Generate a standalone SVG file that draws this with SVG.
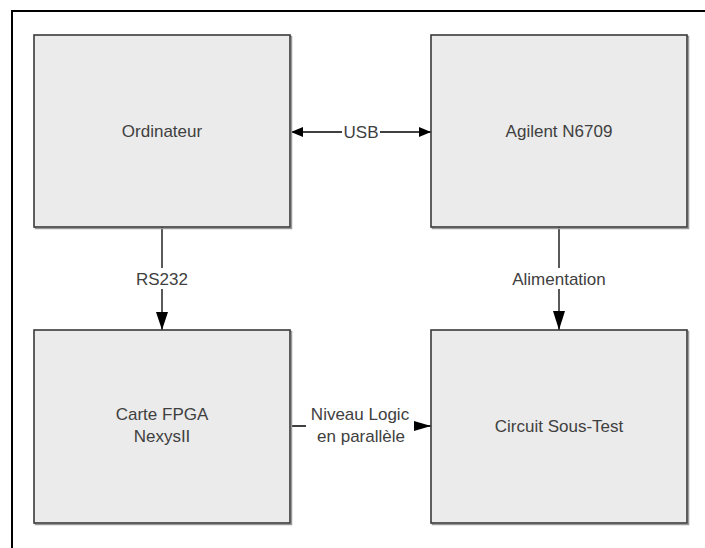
<svg xmlns="http://www.w3.org/2000/svg" width="705" height="548" viewBox="0 0 705 548">
<style>
.shadow{fill:none;stroke:#9a9a9a;stroke-width:1.5}
.box{fill:#ebebeb;stroke:#3a3a3a;stroke-width:1.6}
.t{font-family:"Liberation Sans",Arial,sans-serif;font-size:17px;fill:#404040;text-anchor:middle}
.ln{stroke:#000;stroke-width:1.3;fill:none}
.ah{fill:#000}
.bg{fill:#fff}
</style>
<rect x="0" y="0" width="705" height="548" fill="#fff"/>
<path d="M705,11 H12 V548" fill="none" stroke="#000" stroke-width="2"/>
<g id="connectors">
<line class="ln" x1="291" y1="132" x2="431" y2="132"/>
<polygon class="ah" points="291,132 303,127 303,137"/>
<polygon class="ah" points="431,132 419,127 419,137"/>
<rect class="bg" x="342" y="122" width="38" height="20"/>
<text class="t" x="361" y="138">USB</text>
<line class="ln" x1="162" y1="227" x2="162" y2="330"/>
<polygon class="ah" points="162,330 156,312 168,312"/>
<rect class="bg" x="134" y="268" width="56" height="21"/>
<text class="t" x="162" y="285">RS232</text>
<line class="ln" x1="559" y1="227" x2="559" y2="330"/>
<polygon class="ah" points="559,330 553,311 565,311"/>
<rect class="bg" x="510" y="268" width="98" height="21"/>
<text class="t" x="559" y="285">Alimentation</text>
<line class="ln" x1="291" y1="426" x2="431" y2="426"/>
<rect class="bg" x="306" y="403" width="108" height="45"/>
<polygon class="ah" points="431,426 414,421 414,431"/>
<text class="t" x="360" y="420">Niveau Logic</text>
<text class="t" x="361" y="442">en parallèle</text>
</g>
<g id="ordinateur">
<rect class="shadow" x="35.5" y="36.5" width="256" height="192"/>
<rect class="box" x="34" y="35" width="256" height="192"/>
<text class="t" x="162" y="137">Ordinateur</text>
</g>
<g id="agilent">
<rect class="shadow" x="432.5" y="36.5" width="256" height="192"/>
<rect class="box" x="431" y="35" width="256" height="192"/>
<text class="t" x="559" y="137">Agilent N6709</text>
</g>
<g id="fpga">
<rect class="shadow" x="35.5" y="331.5" width="256" height="193"/>
<rect class="box" x="34" y="330" width="256" height="193"/>
<text class="t" x="162" y="420">Carte FPGA</text>
<text class="t" x="162" y="442">NexysII</text>
</g>
<g id="circuit">
<rect class="shadow" x="432.5" y="331.5" width="256" height="193"/>
<rect class="box" x="431" y="330" width="256" height="193"/>
<text class="t" x="559" y="432">Circuit Sous-Test</text>
</g>
</svg>
